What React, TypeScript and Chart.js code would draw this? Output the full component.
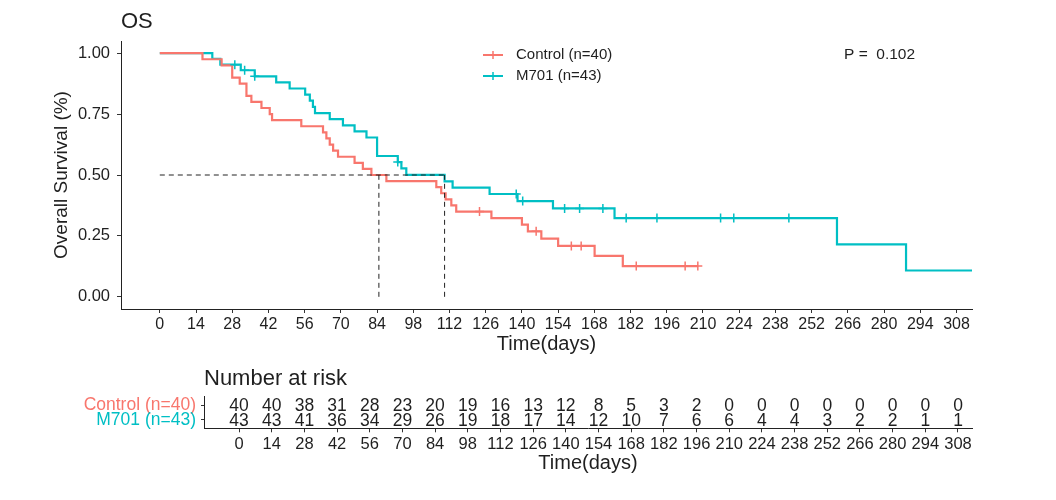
import React, { useEffect, useRef } from 'react';
import { Chart, registerables } from 'chart.js';

Chart.register(...registerables);

const FONT = '"Liberation Sans", Arial, sans-serif';
const RED = '#F8766D';
const TEAL = '#00BFC4';
const INK = '#1f1f1f';

// ---------- data ----------
const seriesLabels = ['Control (n=40)', 'M701 (n=43)'];

const controlTimes = [0, 16.5, 23.9, 28.0, 30.9, 33.5, 35.4, 39.3, 42.5, 43.4, 54.7, 63.1, 64.4, 65.7, 67.0, 68.9, 75.3, 78.5, 81.8, 87.6, 106.9, 108.8, 110.5, 112.7, 114.6, 128.2, 140.0, 142.3, 147.5, 154.0, 168.1, 179.0, 208.0];
const controlSurv = [1, 0.975, 0.95, 0.9, 0.875, 0.825, 0.8, 0.775, 0.75, 0.725, 0.7, 0.675, 0.65, 0.625, 0.6, 0.575, 0.55, 0.525, 0.5, 0.475, 0.45, 0.425, 0.4, 0.375, 0.35, 0.323, 0.296, 0.269, 0.239, 0.209, 0.168, 0.126, 0.126];
const controlCensorTimes = [123.6, 145.5, 159.1, 162.9, 184.2, 203.1, 208.0];

const m701Times = [0, 20.3, 23.4, 31.3, 36.7, 45.0, 50.2, 56.2, 58.0, 59.2, 60.0, 65.7, 70.8, 75.3, 79.9, 84.0, 92.0, 93.4, 95.3, 110.1, 113.2, 127.5, 138.3, 152.0, 175.8, 261.8, 288.5, 314.0];
const m701Surv = [1, 0.977, 0.953, 0.930, 0.905, 0.880, 0.855, 0.830, 0.805, 0.780, 0.754, 0.729, 0.704, 0.679, 0.654, 0.578, 0.553, 0.527, 0.5005, 0.474, 0.448, 0.422, 0.393, 0.363, 0.323, 0.215, 0.108, 0.108];
const m701CensorTimes = [29.0, 32.8, 36.7, 92.0, 137.8, 140.3, 156.5, 162.3, 171.3, 180.3, 192.2, 216.8, 221.9, 243.2];

const medianTimes = [84.7, 110.1];

const xTicks = [0, 14, 28, 42, 56, 70, 84, 98, 112, 126, 140, 154, 168, 182, 196, 210, 224, 238, 252, 266, 280, 294, 308];
const yTicks = [0, 0.25, 0.5, 0.75, 1.0];

const riskTimes = [0, 14, 28, 42, 56, 70, 84, 98, 112, 126, 140, 154, 168, 182, 196, 210, 224, 238, 252, 266, 280, 294, 308];
const controlRisk = [40, 40, 38, 31, 28, 23, 20, 19, 16, 13, 12, 8, 5, 3, 2, 0, 0, 0, 0, 0, 0, 0, 0];
const m701Risk = [43, 43, 41, 36, 34, 29, 26, 19, 18, 17, 14, 12, 10, 7, 6, 6, 4, 4, 3, 2, 2, 1, 1];

const titleText = 'OS';
const pValueText = 'P =  0.102';
const riskTitle = 'Number at risk';
const xTitle = 'Time(days)';
const yTitle = 'Overall Survival (%)';

const X_MIN = -15;
const X_MAX = 314;

// ---------- helpers ----------
function survAt(times: number[], surv: number[], t: number) {
  let s = surv[0];
  for (let i = 0; i < times.length; i++) if (times[i] <= t) s = surv[i];
  return s;
}

const curveDs = (label: string, times: number[], surv: number[], color: string) => ({
  type: 'line',
  label,
  data: times.map((t, i) => ({ x: t, y: surv[i] })),
  borderColor: color,
  backgroundColor: color,
  borderWidth: 2.2,
  pointRadius: 0,
  stepped: 'before',
  fill: false,
  order: 2,
});

const censorDs = (times: number[], stepT: number[], stepS: number[], color: string) => ({
  type: 'line',
  label: '',
  data: times.map((t) => ({ x: t, y: survAt(stepT, stepS, t) })),
  showLine: false,
  pointStyle: 'cross',
  pointRadius: 4.5,
  pointBorderWidth: 1.5,
  borderColor: color,
  backgroundColor: color,
  order: 1,
});

const dashStyle = {
  type: 'line',
  label: '',
  borderColor: '#222',
  borderWidth: 1,
  borderDash: [5, 4],
  pointRadius: 0,
  fill: false,
  order: 0,
};

const mainDecor = {
  id: 'mainDecor',
  afterDraw(chart: any) {
    const ctx = chart.ctx;
    ctx.save();
    ctx.fillStyle = INK;
    ctx.textBaseline = 'middle';
    ctx.textAlign = 'left';
    ctx.font = `22px ${FONT}`;
    ctx.fillText(titleText, 121, 22);
    ctx.font = `15.5px ${FONT}`;
    ctx.fillText(pValueText, 844, 55);
    const colors = [RED, TEAL];
    const ys = [55, 76];
    ctx.font = `15px ${FONT}`;
    seriesLabels.forEach((lab, i) => {
      ctx.strokeStyle = colors[i];
      ctx.lineWidth = 2;
      ctx.beginPath();
      ctx.moveTo(483, ys[i]);
      ctx.lineTo(503, ys[i]);
      ctx.stroke();
      ctx.lineWidth = 1.5;
      ctx.beginPath();
      ctx.moveTo(493, ys[i] - 4);
      ctx.lineTo(493, ys[i] + 4);
      ctx.stroke();
      ctx.fillStyle = INK;
      ctx.fillText(lab, 516, ys[i]);
    });
    ctx.restore();
  },
};

const riskDecor = {
  id: 'riskDecor',
  afterDatasetsDraw(chart: any) {
    const ctx = chart.ctx;
    const counts = [controlRisk, m701Risk];
    ctx.save();
    ctx.fillStyle = INK;
    ctx.textAlign = 'center';
    ctx.textBaseline = 'middle';
    ctx.font = `17.5px ${FONT}`;
    chart.data.datasets.forEach((_ds: any, di: number) => {
      const meta = chart.getDatasetMeta(di);
      meta.data.forEach((el: any, i: number) => {
        ctx.fillText(String(counts[di][i]), el.x, el.y + 1);
      });
    });
    ctx.textAlign = 'left';
    ctx.font = `22px ${FONT}`;
    ctx.fillText(riskTitle, chart.chartArea.left, 19);
    ctx.restore();
  },
};

const axisCommon = {
  grid: { display: true, drawOnChartArea: false, drawTicks: true, color: '#333', tickLength: 4 },
  border: { display: true, color: '#222', width: 1 },
};

export default function App() {
  const mainRef = useRef<HTMLCanvasElement>(null);
  const riskRef = useRef<HTMLCanvasElement>(null);

  useEffect(() => {
    const maxMedian = Math.max(...medianTimes);
    const mainChart = new Chart(mainRef.current as HTMLCanvasElement, {
      type: 'line',
      data: {
        datasets: [
          curveDs(seriesLabels[0], controlTimes, controlSurv, RED),
          curveDs(seriesLabels[1], m701Times, m701Surv, TEAL),
          censorDs(controlCensorTimes, controlTimes, controlSurv, RED),
          censorDs(m701CensorTimes, m701Times, m701Surv, TEAL),
          { ...dashStyle, data: [{ x: 0, y: 0.5 }, { x: maxMedian, y: 0.5 }] },
          ...medianTimes.map((m) => ({ ...dashStyle, data: [{ x: m, y: 0 }, { x: m, y: 0.5 }] })),
        ] as any,
      },
      options: {
        responsive: false,
        animation: false,
        layout: { padding: { left: 0, right: 84, top: 41, bottom: 0 } },
        plugins: { legend: { display: false }, tooltip: { enabled: false }, title: { display: false } },
        scales: {
          x: {
            type: 'linear',
            min: X_MIN,
            max: X_MAX,
            ...axisCommon,
            afterBuildTicks: (s: any) => { s.ticks = xTicks.map((v) => ({ value: v })); },
            afterFit: (s: any) => { s.height = 51; },
            ticks: { autoSkip: false, maxRotation: 0, padding: 2, color: INK, font: { size: 16, family: FONT }, callback: (v: any) => String(v) },
            title: { display: true, text: xTitle, color: INK, font: { size: 20, family: FONT }, padding: { top: 0, bottom: 3.5 } },
          },
          y: {
            type: 'linear',
            min: -0.05,
            max: 1.05,
            ...axisCommon,
            afterBuildTicks: (s: any) => { s.ticks = yTicks.map((v) => ({ value: v })); },
            afterFit: (s: any) => { s.width = 121; },
            ticks: { padding: 7, color: INK, font: { size: 16.5, family: FONT }, callback: (v: any) => Number(v).toFixed(2) },
            title: { display: true, text: yTitle, color: INK, font: { size: 19, family: FONT }, padding: { top: 50, bottom: 0 } },
          },
        },
      } as any,
      plugins: [mainDecor],
    });

    const riskChart = new Chart(riskRef.current as HTMLCanvasElement, {
      type: 'scatter',
      data: {
        datasets: [
          { label: seriesLabels[0], data: riskTimes.map((t) => ({ x: t, y: 1 })), pointRadius: 0 },
          { label: seriesLabels[1], data: riskTimes.map((t) => ({ x: t, y: 2 })), pointRadius: 0 },
        ],
      },
      options: {
        responsive: false,
        animation: false,
        layout: { padding: { left: 0, right: 84, top: 36.7, bottom: 0 } },
        plugins: { legend: { display: false }, tooltip: { enabled: false } },
        scales: {
          x: {
            type: 'linear',
            min: X_MIN,
            max: X_MAX,
            ...axisCommon,
            afterBuildTicks: (s: any) => { s.ticks = riskTimes.map((v) => ({ value: v })); },
            afterFit: (s: any) => { s.height = 71.7; },
            ticks: { autoSkip: false, maxRotation: 0, padding: 2, color: INK, font: { size: 16.5, family: FONT }, callback: (v: any) => String(v) },
            title: { display: true, text: xTitle, color: INK, font: { size: 20, family: FONT }, padding: { top: 0, bottom: 25 } },
          },
          y: {
            type: 'linear',
            min: 0.4,
            max: 2.6,
            reverse: true,
            ...axisCommon,
            grid: { ...axisCommon.grid, tickLength: 3 },
            afterBuildTicks: (s: any) => { s.ticks = [{ value: 1 }, { value: 2 }]; },
            afterFit: (s: any) => { s.width = 204; },
            ticks: {
              padding: 5,
              font: { size: 17.5, family: FONT },
              color: (c: any) => (c.tick && c.tick.value === 2 ? TEAL : RED),
              callback: (v: any) => seriesLabels[Number(v) - 1],
            },
          },
        },
      } as any,
      plugins: [riskDecor],
    });

    return () => {
      mainChart.destroy();
      riskChart.destroy();
    };
  }, []);

  return (
    <div style={{ position: 'absolute', left: 0, top: 0, width: 1056, height: 500, background: '#fff' }}>
      <canvas ref={mainRef} width={1056} height={360} style={{ position: 'absolute', left: 0, top: 0 }} />
      <canvas ref={riskRef} width={1056} height={140} style={{ position: 'absolute', left: 0, top: 360 }} />
    </div>
  );
}
